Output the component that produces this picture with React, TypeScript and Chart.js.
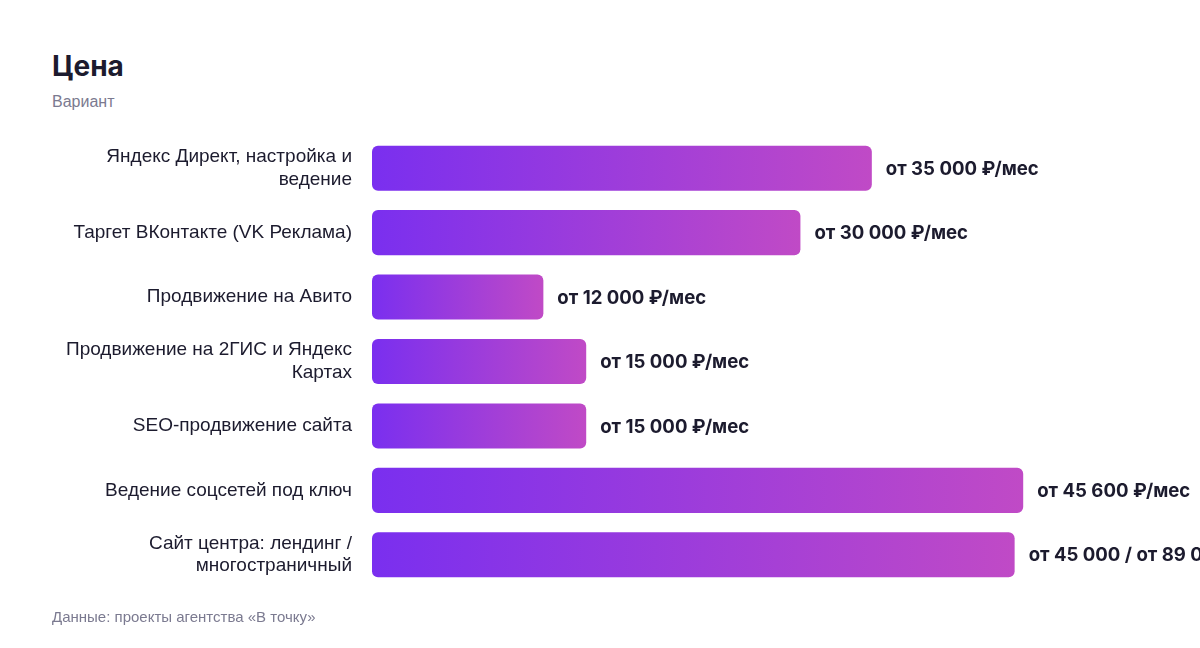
import React, { useEffect, useRef } from "react";
import { Chart, registerables } from "chart.js";

Chart.register(...registerables);

const categories: (string | string[])[] = [
  ["Яндекс Директ, настройка и", "ведение"],
  "Таргет ВКонтакте (VK Реклама)",
  "Продвижение на Авито",
  ["Продвижение на 2ГИС и Яндекс", "Картах"],
  "SEO-продвижение сайта",
  "Ведение соцсетей под ключ",
  ["Сайт центра: лендинг /", "многостраничный"],
];
const values: number[] = [35000, 30000, 12000, 15000, 15000, 45600, 45000];
const valueLabels: string[] = [
  "от 35 000 ₽/мес",
  "от 30 000 ₽/мес",
  "от 12 000 ₽/мес",
  "от 15 000 ₽/мес",
  "от 15 000 ₽/мес",
  "от 45 600 ₽/мес",
  "от 45 000 / от 89 000 ₽",
];
const xMax = 57000;

const TEXT = "#1c1b2e";
const MUTED = "#7b7a90";

const valueLabelPlugin = {
  id: "valueLabels",
  afterDatasetsDraw(chart: any) {
    const ctx = chart.ctx;
    const meta = chart.getDatasetMeta(0);
    ctx.save();
    ctx.font = "bold 18.6px Inter";
    ctx.fillStyle = TEXT;
    ctx.textAlign = "left";
    ctx.textBaseline = "middle";
    meta.data.forEach((bar: any, i: number) => {
      ctx.fillText(valueLabels[i], bar.x + 14, bar.y + 1);
    });
    ctx.restore();
  },
};

export default function App() {
  const ref = useRef<HTMLCanvasElement | null>(null);
  useEffect(() => {
    if (!ref.current) return;
    const chart = new Chart(ref.current, {
      type: "bar",
      data: {
        labels: categories,
        datasets: [
          {
            data: values,
            backgroundColor: (c: any) => {
              const ch = c.chart;
              const xs = ch.scales && ch.scales.x;
              if (!xs || c.dataIndex === undefined) return "#7b2fee";
              const x0 = xs.getPixelForValue(0);
              const x1 = xs.getPixelForValue(values[c.dataIndex]);
              if (!isFinite(x0) || !isFinite(x1) || x1 <= x0) return "#7b2fee";
              const g = ch.ctx.createLinearGradient(x0, 0, x1, 0);
              g.addColorStop(0, "#7a2fef");
              g.addColorStop(1, "#c04ac6");
              return g;
            },
            borderRadius: 6,
            borderSkipped: false,
            barPercentage: 0.7,
            categoryPercentage: 1,
          },
        ],
      },
      options: {
        indexAxis: "y",
        animation: false,
        responsive: false,
        maintainAspectRatio: false,
        layout: { padding: { left: 0, right: 14, top: 136, bottom: 61 } },
        plugins: {
          legend: { display: false },
          tooltip: { enabled: false },
        },
        scales: {
          x: {
            min: 0,
            max: xMax,
            display: false,
          },
          y: {
            grid: { display: false, drawTicks: false },
            border: { display: false },
            ticks: {
              padding: 20,
              color: TEXT,
              font: { family: "'Liberation Sans', Arial", size: 19, lineHeight: 1.2 },
            },
            afterFit: (s: any) => {
              s.width = 372;
            },
          },
        },
      },
      plugins: [valueLabelPlugin],
    } as any);
    return () => chart.destroy();
  }, []);

  return (
    <div style={{ position: "fixed", left: 0, top: 0, width: 1200, height: 648, background: "#fff", overflow: "hidden" }}>
      <div
        style={{
          position: "absolute",
          left: 52,
          top: 46,
          fontFamily: "Inter",
          fontWeight: 700,
          fontSize: 28,
          lineHeight: "40px",
          color: TEXT,
        }}
      >
        Цена
      </div>
      <div
        style={{
          position: "absolute",
          left: 52,
          top: 92,
          fontFamily: "'Liberation Sans', Arial",
          fontSize: 16,
          lineHeight: "20px",
          color: MUTED,
        }}
      >
        Вариант
      </div>
      <canvas ref={ref} width={1200} height={648} style={{ position: "absolute", left: 0, top: 0, width: 1200, height: 648 }} />
      <div
        style={{
          position: "absolute",
          left: 52,
          top: 607,
          fontFamily: "'Liberation Sans', Arial",
          fontSize: 15,
          lineHeight: "20px",
          color: MUTED,
        }}
      >
        Данные: проекты агентства «В точку»
      </div>
    </div>
  );
}
